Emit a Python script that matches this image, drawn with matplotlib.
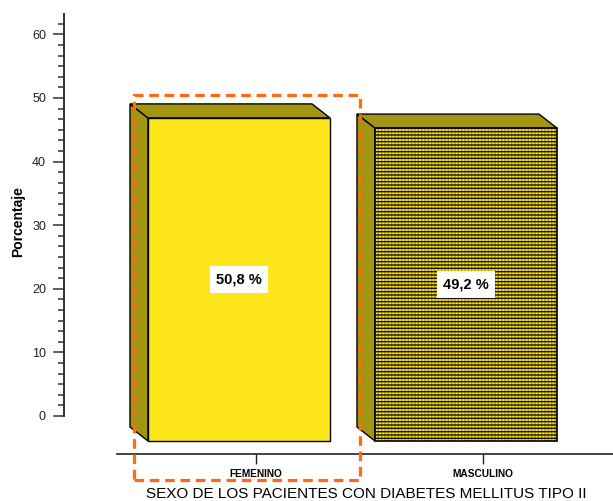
import matplotlib
matplotlib.use("Agg")
import matplotlib.pyplot as plt
from matplotlib.patches import Polygon, Rectangle
from matplotlib.ticker import MultipleLocator

plt.rcParams['font.family'] = ['Liberation Sans', 'DejaVu Sans']
plt.rcParams['hatch.linewidth'] = 1.0

categories = ["FEMENINO", "MASCULINO"]
values = [50.8, 49.2]
value_labels = ["50,8 %", "49,2 %"]
ylabel = "Porcentaje"
xlabel = "SEXO DE LOS PACIENTES CON DIABETES MELLITUS TIPO II"

W, H = 613, 501
fig = plt.figure(figsize=(W / 100, H / 100), dpi=100)

# ---------- value axis (left) ----------
px_per_unit = 6.36
ax1 = fig.add_axes([64 / W, (H - 416) / H, 0.5, (416 - 14) / H])
ax1.set_ylim(0, (416 - 14) / px_per_unit)
ax1.patch.set_alpha(0)
for s in ["top", "right", "bottom"]:
    ax1.spines[s].set_visible(False)
ax1.spines["left"].set_linewidth(1.4)
ax1.spines["left"].set_color("#333333")
ax1.set_xticks([])
ax1.yaxis.set_major_locator(MultipleLocator(10))
ax1.yaxis.set_minor_locator(MultipleLocator(10 / 6))
ax1.tick_params(axis="y", which="major", length=8, width=1.1, color="#333333",
                labelsize=9, pad=5, labelcolor="#222222")
ax1.tick_params(axis="y", which="minor", length=4, width=1.1, color="#333333")
ax1.set_ylabel(ylabel, fontsize=10, fontweight="bold")
ax1.yaxis.set_label_coords(-39 / (0.5 * W), (416 - 222) / (416 - 14))

# ---------- category axis / bars ----------
unit_px = 227.0
ax2 = fig.add_axes([117 / W, (H - 454) / H, (613 - 117) / W, 454 / H])
ax2.set_xlim((117 - 256) / unit_px, (613 - 256) / unit_px)
ax2.set_ylim((441 - 454) / px_per_unit, 441 / px_per_unit)
ax2.patch.set_alpha(0)
for s in ["top", "right", "left"]:
    ax2.spines[s].set_visible(False)
ax2.spines["bottom"].set_linewidth(1.2)
ax2.spines["bottom"].set_color("#222222")
ax2.set_yticks([])
ax2.set_xticks(range(len(categories)))
ax2.set_xticklabels(categories, fontsize=7.3, fontweight="bold")
ax2.tick_params(axis="x", length=7, width=1, color="#222222", pad=4)

front_yellow = "#FDE619"
side_olive = "#A39412"
off = -0.4758
bw = 182 / unit_px
dx = -18 / unit_px
dy = 14 / px_per_unit

for i, v in enumerate(values):
    x0 = i + off
    x1 = x0 + bw
    side = Polygon([(x0, 0), (x0, v), (x0 + dx, v + dy), (x0 + dx, dy)],
                   closed=True, facecolor=side_olive, edgecolor="black",
                   linewidth=1.0, clip_on=False, zorder=2)
    top = Polygon([(x0, v), (x1, v), (x1 + dx, v + dy), (x0 + dx, v + dy)],
                  closed=True, facecolor=side_olive, edgecolor="black",
                  linewidth=1.0, clip_on=False, zorder=2)
    ax2.add_patch(side)
    ax2.add_patch(top)
    if i == 0:
        front = Rectangle((x0, 0), bw, v, facecolor=front_yellow,
                          edgecolor="black", linewidth=1.0, clip_on=False, zorder=3)
        ax2.add_patch(front)
    else:
        front2 = Rectangle((x0, 0), bw, v, facecolor=front_yellow,
                           edgecolor="#B59F0A", hatch="|||||", linewidth=0,
                           clip_on=False, zorder=3)
        ax2.add_patch(front2)
        front = Rectangle((x0, 0), bw, v, facecolor="none",
                          edgecolor="#111111", hatch="-----", linewidth=0,
                          clip_on=False, zorder=3.5)
        ax2.add_patch(front)
        border = Rectangle((x0, 0), bw, v, facecolor="none",
                           edgecolor="black", linewidth=1.2, clip_on=False, zorder=4)
        ax2.add_patch(border)
    ax2.text(x0 + bw / 2, v / 2, value_labels[i], ha="center", va="center",
             fontsize=10.5, fontweight="bold", color="black", zorder=6,
             bbox=dict(boxstyle="square,pad=0.45", facecolor="white",
                       edgecolor="none"))

# highlight rectangle (dashed orange)
hl = Rectangle((134 / W, (H - 480) / H), (360 - 134) / W, (480 - 95) / H,
               transform=fig.transFigure, facecolor="none", edgecolor="#FF6A13",
               linewidth=2.3, linestyle=(0, (3, 1.8)), zorder=10, clip_on=False)
fig.add_artist(hl)

fig.text(366 / W, (H - 494) / H, xlabel, ha="center", va="center", fontsize=11,
         color="black")

fig.savefig("out.png", dpi=100)
